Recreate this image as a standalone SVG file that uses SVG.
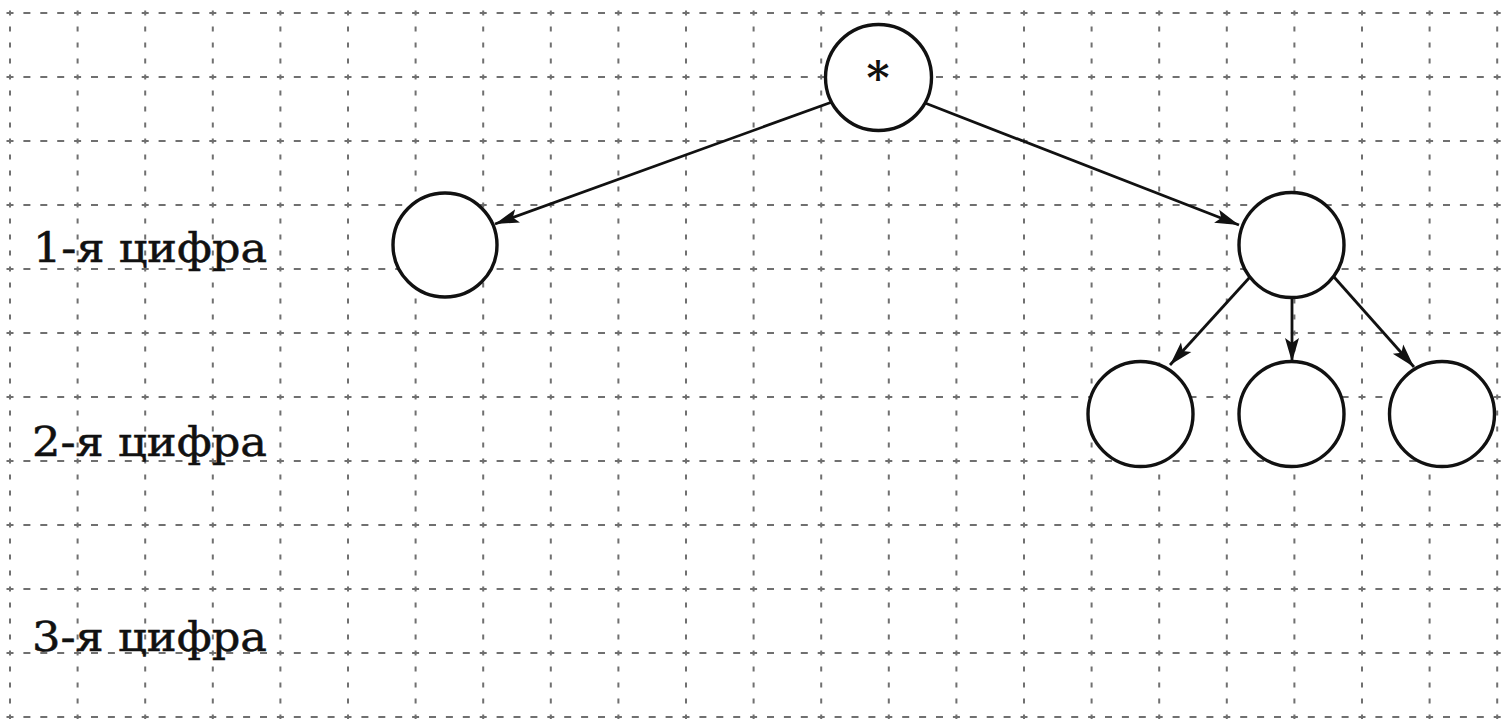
<svg xmlns="http://www.w3.org/2000/svg" width="1506" height="719" viewBox="0 0 1506 719">
<defs>
<style>
.gh{stroke:#707070;stroke-width:2;stroke-dasharray:7 9.9;fill:none}
.gv{stroke:#707070;stroke-width:2;stroke-dasharray:5 11;fill:none}
.node{fill:#fff;stroke:#111;stroke-width:3.4}
.edge{stroke:#111;stroke-width:2.8;fill:none;marker-end:url(#ah)}
.lbl{font-family:"DejaVu Serif","Liberation Serif",serif;font-size:41px;fill:#111;stroke:#111;stroke-width:0.5}
.star{font-family:"DejaVu Serif","Liberation Serif",serif;font-size:44px;font-weight:bold;fill:#111;text-anchor:middle}
</style>
<marker id="ah" markerUnits="userSpaceOnUse" markerWidth="26" markerHeight="16" refX="24" refY="8" orient="auto">
<path d="M0,1 L24,8 L0,15 L5,8 Z" fill="#111"/>
</marker>
</defs>
<rect width="1506" height="719" fill="#fff"/>
<g id="grid">
<path class="gh" d="M6.5,13H1506M6.5,77H1506M6.5,141H1506M6.5,205H1506M6.5,269H1506M6.5,333H1506M6.5,397H1506M6.5,461H1506M6.5,525H1506M6.5,589H1506M6.5,653H1506M6.5,717H1506"/>
<path class="gv" d="M10,10.5V719M77.6,10.5V719M145.2,10.5V719M212.8,10.5V719M280.4,10.5V719M348,10.5V719M415.6,10.5V719M483.2,10.5V719M550.8,10.5V719M618.4,10.5V719M686,10.5V719M753.6,10.5V719M821.2,10.5V719M888.8,10.5V719M956.4,10.5V719M1024,10.5V719M1091.6,10.5V719M1159.2,10.5V719M1226.8,10.5V719M1294.4,10.5V719M1362,10.5V719M1429.6,10.5V719M1497.2,10.5V719"/>
</g>
<g id="labels">
<text class="lbl" x="33" y="262" textLength="234" lengthAdjust="spacingAndGlyphs">1-я цифра</text>
<text class="lbl" x="32" y="456" textLength="235" lengthAdjust="spacingAndGlyphs">2-я цифра</text>
<text class="lbl" x="32" y="651" textLength="235" lengthAdjust="spacingAndGlyphs">3-я цифра</text>
</g>
<g id="connectors">
<line class="edge" x1="832" y1="102" x2="495" y2="224"/>
<line class="edge" x1="925" y1="103" x2="1239" y2="225"/>
<line class="edge" x1="1250" y1="277" x2="1170" y2="365"/>
<line class="edge" x1="1292" y1="297" x2="1292" y2="362"/>
<line class="edge" x1="1334" y1="277" x2="1414" y2="367"/>
</g>
<g id="root"><circle class="node" cx="878.5" cy="77.5" r="53"/><text class="star" x="878" y="94">*</text></g>
<g id="d1a"><circle class="node" cx="445" cy="245" r="52"/></g>
<g id="d1b"><circle class="node" cx="1291.5" cy="245" r="52.5"/></g>
<g id="d2a"><circle class="node" cx="1140.5" cy="414" r="52.5"/></g>
<g id="d2b"><circle class="node" cx="1291.5" cy="414" r="52.5"/></g>
<g id="d2c"><circle class="node" cx="1442" cy="414" r="52.5"/></g>
</svg>
